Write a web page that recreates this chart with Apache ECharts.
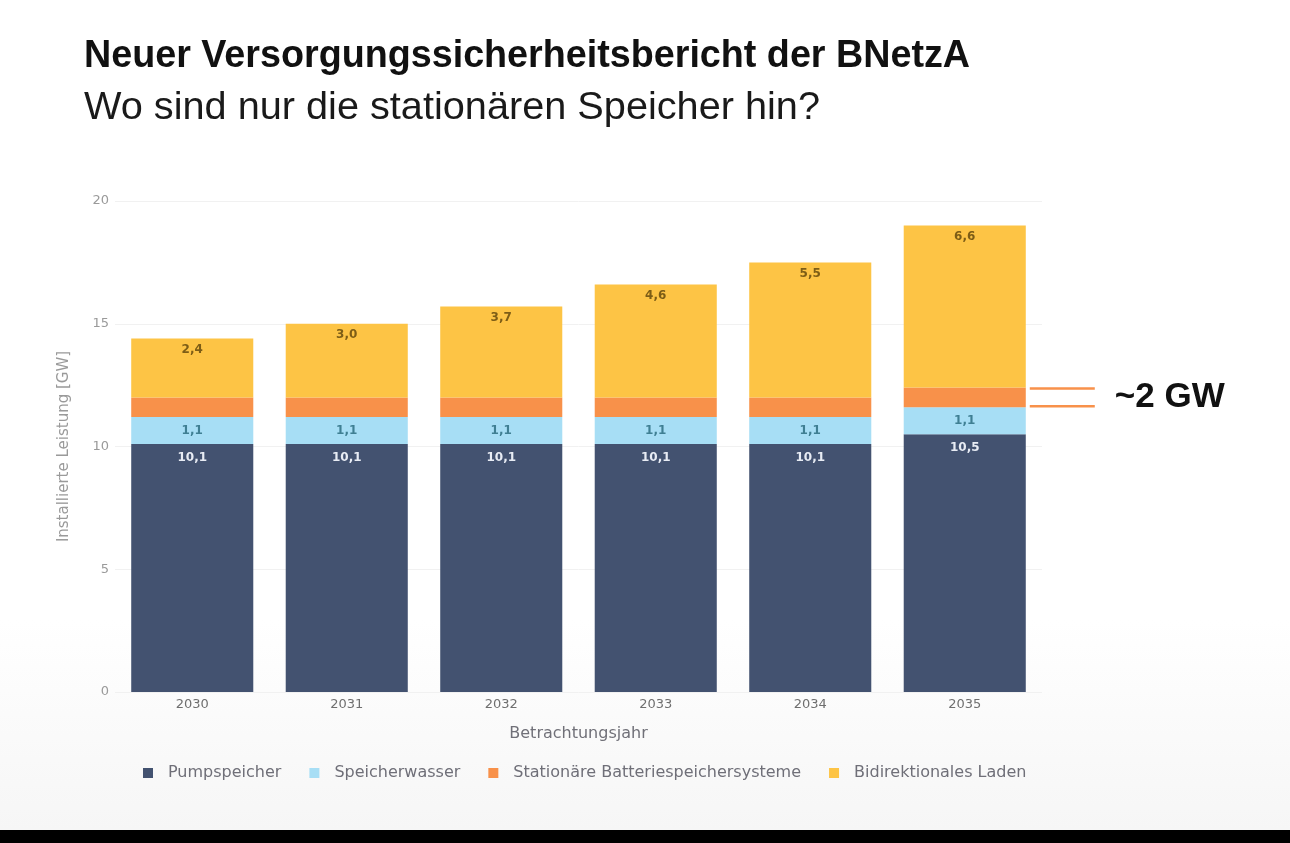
<!DOCTYPE html>
<html><head><meta charset="utf-8">
<script src="https://cdn.jsdelivr.net/npm/echarts@6/dist/echarts.min.js"></script>
<style>
html,body{margin:0;padding:0;width:1290px;height:843px;overflow:hidden;}
body{background:linear-gradient(to bottom,#ffffff 0px,#ffffff 620px,#f6f6f6 830px);}
#c{position:absolute;left:0;top:0;width:1290px;height:830px;}
#bar{position:absolute;left:0;top:830px;width:1290px;height:13px;background:#000;}
</style></head>
<body>
<div id="c"></div><div id="bar"></div>
<script>
const years = ['2030','2031','2032','2033','2034','2035'];
const pumpspeicher = [10.1,10.1,10.1,10.1,10.1,10.5];
const speicherwasser = [1.1,1.1,1.1,1.1,1.1,1.1];
const batteriespeicher = [0.8,0.8,0.8,0.8,0.8,0.8];
const bidirektional = [2.4,3.0,3.7,4.6,5.5,6.6];
const yTicks = [0,5,10,15,20];
const seriesNames = ['Pumpspeicher','Speicherwasser','Stationäre Batteriespeichersysteme','Bidirektionales Laden'];
const colors = ['#435270','#a7def5','#f8914a','#fdc445'];
const titleText = 'Neuer Versorgungssicherheitsbericht der BNetzA';
const subtitleText = 'Wo sind nur die stationären Speicher hin?';
const annotationText = '~2 GW';

const fmt = v => v.toFixed(1).replace('.', ',');
const chart = echarts.init(document.getElementById('c'), null, {renderer:'canvas'});
const labelFont = 'DejaVu Sans';
function mk(name, data, color, label){
  return {name, type:'bar', stack:'s', data, barWidth:'79%',
    itemStyle:{color}, label, emphasis:{disabled:true}};
}
// condensed headline: measure real width and squeeze horizontally
const ctx = document.createElement('canvas').getContext('2d');
function squeeze(text, font, target){ ctx.font = font; return target / ctx.measureText(text).width; }
const tFont = 'bold 39px "Liberation Sans"';
const sFont = '39px "Liberation Sans"';
const tScale = squeeze(titleText, tFont, 886);
const sScale = squeeze(subtitleText, sFont, 736);

chart.setOption({
  animation:false,
  color: colors,
  grid:{left:115, right:248, top:201, bottom:138, containLabel:false},
  legend:{bottom:44, left:138, itemWidth:10, itemHeight:10, icon:'rect', itemGap:28,
    textStyle:{fontFamily:labelFont, fontSize:16, color:'#6f6f78', padding:[0,0,0,10]}, data:seriesNames},
  xAxis:{type:'category', data:years, axisLine:{show:false}, axisTick:{show:false},
    axisLabel:{fontFamily:labelFont, fontSize:13, color:'#6f6f6f', margin:6},
    name:'Betrachtungsjahr', nameLocation:'middle', nameGap:34,
    nameTextStyle:{fontFamily:labelFont, fontSize:16, color:'#707078'}},
  yAxis:{type:'value', min:0, max:20, interval:5,
    axisLabel:{fontFamily:labelFont, fontSize:13, color:'#9a9a9a', margin:6,
      formatter:v=> yTicks.includes(v) ? String(v) : ''},
    splitLine:{lineStyle:{color:'#f1f1f1'}}, axisLine:{show:false}, axisTick:{show:false},
    name:'Installierte Leistung [GW]', nameLocation:'middle', nameGap:43, nameRotate:90,
    nameTextStyle:{fontFamily:labelFont, fontSize:15, color:'#9a9a9a'}},
  series:[
    mk(seriesNames[0], pumpspeicher, colors[0], {show:true, position:'insideTop', distance:8,
       color:'#e8ecf4', fontFamily:labelFont, fontWeight:'bold', fontSize:12, formatter:p=>fmt(p.value)}),
    mk(seriesNames[1], speicherwasser, colors[1], {show:true, position:'inside',
       color:'#3f7f93', fontFamily:labelFont, fontWeight:'bold', fontSize:12, formatter:p=>fmt(p.value)}),
    mk(seriesNames[2], batteriespeicher, colors[2], {show:false}),
    mk(seriesNames[3], bidirektional, colors[3], {show:true, position:'insideTop', distance:5,
       color:'#7d5d16', fontFamily:labelFont, fontWeight:'bold', fontSize:12, formatter:p=>fmt(p.value)})
  ]
});
// annotation bracket at the battery segment of the last bar, positioned via the chart's scales
const li = years.length-1;
const lo = pumpspeicher[li]+speicherwasser[li];
const hi = lo + batteriespeicher[li];
const pLo = chart.convertToPixel({gridIndex:0}, [years[li], lo]);
const pHi = chart.convertToPixel({gridIndex:0}, [years[li], hi]);
const bw = chart.getModel().getSeriesByIndex(0).getData().getLayout('size') || 122;
const xStart = pLo[0] + bw/2 + 4;
const xEnd = xStart + 65;
chart.setOption({graphic:[
  {type:'text', x:84, y:37, scaleX:tScale, style:{text:titleText, fill:'#111', font:tFont, textVerticalAlign:'top'}},
  {type:'text', x:84, y:89, scaleX:sScale, style:{text:subtitleText, fill:'#1a1a1a', font:sFont, textVerticalAlign:'top'}},
  {type:'line', shape:{x1:xStart, y1:pHi[1]+1, x2:xEnd, y2:pHi[1]+1}, style:{stroke:colors[2], lineWidth:2.5}},
  {type:'line', shape:{x1:xStart, y1:pLo[1]-1, x2:xEnd, y2:pLo[1]-1}, style:{stroke:colors[2], lineWidth:2.5}},
  {type:'text', x:xEnd+20, y:(pLo[1]+pHi[1])/2, style:{text:annotationText, fill:'#111',
     font:'bold 35px "Liberation Sans"', textVerticalAlign:'middle'}}
]});
</script>
</body></html>
